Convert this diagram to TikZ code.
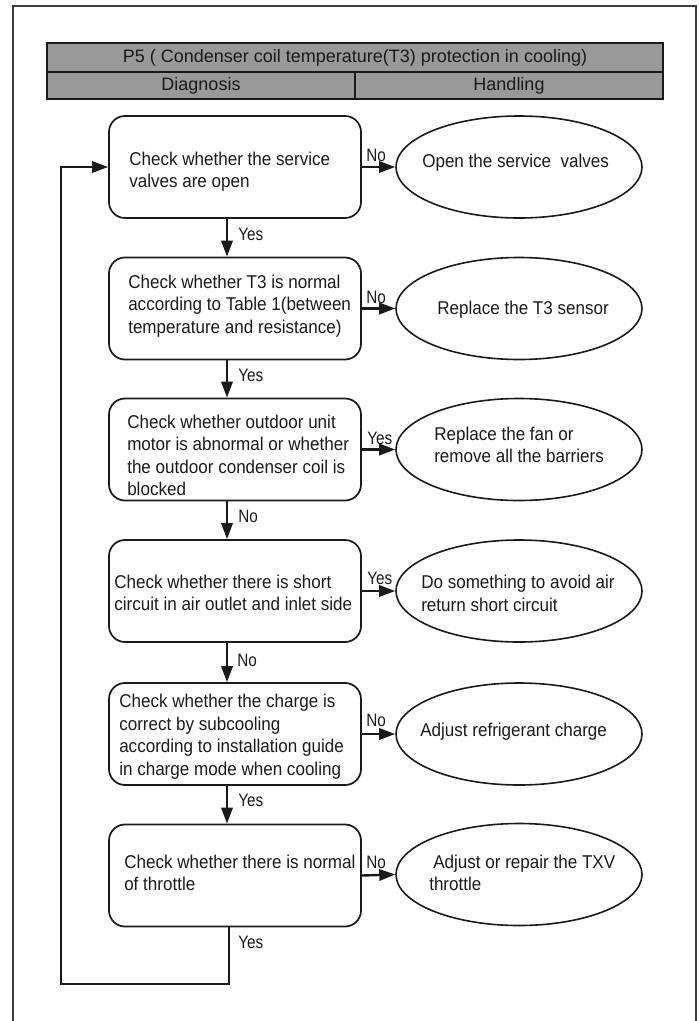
\documentclass[tikz,border=0pt]{standalone}
\usepackage{fontspec}
\setmainfont{Liberation Sans}
\newfontfamily\narrowsans[FakeStretch=0.92]{Liberation Sans}
\newfontfamily\lblsans[FakeStretch=0.85]{Liberation Sans}
\usetikzlibrary{shapes.geometric,arrows.meta,calc}
\definecolor{hdrgray}{HTML}{999999}
\definecolor{ink}{HTML}{1A1A1A}
\begin{document}
\begin{tikzpicture}[x=0.75pt,y=-0.75pt,
  box/.style={draw=ink, line width=1.3pt, rounded corners=12pt, minimum width=189pt, minimum height=76.5pt, inner sep=0pt},
  oval/.style={ellipse, draw=ink, line width=1.2pt, minimum width=184.5pt, minimum height=76.5pt, inner sep=0pt},
  txt/.style={anchor=west, inner sep=0pt, align=left, text=ink, font=\narrowsans\fontsize{13.9pt}{16.9pt}\selectfont},
  lbl/.style={anchor=west, inner sep=0pt, text=ink, font=\lblsans\fontsize{13.5pt}{15pt}\selectfont},
  conn/.style={draw=ink, line width=1.8pt, -{Triangle[length=12pt,width=8.5pt]}},
  hdr/.style={draw=ink, line width=1.4pt, fill=hdrgray, inner sep=0pt, text=ink, font=\fontsize{13.5pt}{16pt}\selectfont}
]
\useasboundingbox (0,0) rectangle (699,1021);
% outer frame
\draw[line width=0.8pt, draw=ink!85] (13,1021) -- (13,6) -- (696,6) -- (696,1021);
% header
\node[hdr, minimum width=462pt, minimum height=21.75pt] (title) at (355,57.5) {P5 ( Condenser coil temperature(T3) protection in cooling)};
\node[hdr, minimum width=231pt, minimum height=20.25pt] (diag) at (201,85.5) {Diagnosis};
\node[hdr, minimum width=231pt, minimum height=20.25pt] (hand) at (509,85.5) {Handling};
% diagnosis boxes
\node[box] (b1) at (235,167) {};
\node[box] (b2) at (235,308.5) {};
\node[box] (b3) at (235,449.5) {};
\node[box] (b4) at (235,591) {};
\node[box] (b5) at (235,734) {};
\node[box] (b6) at (235,875.5) {};
\node[txt] (t1) at (129,171.5) {Check whether the service\\valves are open};
\node[txt] (t2) at (128,306) {Check whether T3 is normal\\according to Table 1(between\\temperature and resistance)};
\node[txt] (t3) at (127,455.5) {Check whether outdoor unit\\motor is abnormal or whether\\the outdoor condenser coil is\\blocked};
\node[txt] (t4) at (114,593) {Check whether there is short\\circuit in air outlet and inlet side};
\node[txt] (t5) at (119,736.5) {Check whether the charge is\\correct by subcooling\\according to installation guide\\in charge mode when cooling};
\node[txt] (t6) at (124,873) {Check whether there is normal\\of throttle};
% handling ellipses
\node[oval] (e1) at (519,167) {};
\node[oval] (e2) at (519,308.5) {};
\node[oval] (e3) at (519,449.5) {};
\node[oval] (e4) at (519,591) {};
\node[oval] (e5) at (519,734) {};
\node[oval] (e6) at (519,874.5) {};
\node[txt] (u1) at (422,163) {Open the service\ \ valves};
\node[txt] (u2) at (437,310) {Replace the T3 sensor};
\node[txt] (u3) at (434,445) {Replace the fan or\\remove all the barriers};
\node[txt] (u4) at (421,593.5) {Do something to avoid air\\return short circuit};
\node[txt] (u5) at (420,732) {Adjust refrigerant charge};
\node[txt] (u6) at (429,873) {\hspace*{3pt}Adjust or repair the TXV\\throttle};
% vertical connectors
\coordinate (ax) at (227,0);
\draw[conn] (b1.south -| ax) -- (b2.north -| ax);
\draw[conn] (b2.south -| ax) -- (b3.north -| ax);
\draw[conn] (b3.south -| ax) -- (b4.north -| ax);
\draw[conn] (b4.south -| ax) -- (b5.north -| ax);
\draw[conn] (b5.south -| ax) -- (b6.north -| ax);
% horizontal connectors
\draw[conn] (b1.east) -- (e1.west);
\draw[conn] (b2.east) -- (e2.west);
\draw[conn] (b3.east) -- (e3.west);
\draw[conn] (b4.east) -- (e4.west);
\draw[conn] (b5.east) -- (e5.west);
\draw[conn] (b6.east) -- (e6.west);
% loop back
\coordinate (l1) at (229,984);
\coordinate (l2) at (61,984);
\draw[conn, line width=1.5pt] (b6.south -| l1) -- (l1) -- (l2) |- (b1.west);
% labels
\node[lbl] (n1) at (366,155) {No};
\node[lbl] (y1) at (238,234) {Yes};
\node[lbl] (n2) at (366,297) {No};
\node[lbl] (y2) at (238,375) {Yes};
\node[lbl] (y3) at (367,438) {Yes};
\node[lbl] (n3) at (238,516) {No};
\node[lbl] (y4) at (367,578) {Yes};
\node[lbl] (n4) at (237,660) {No};
\node[lbl] (n5) at (366,720) {No};
\node[lbl] (y5) at (238,800) {Yes};
\node[lbl] (n6) at (366,862) {No};
\node[lbl] (y6) at (238,942) {Yes};
\end{tikzpicture}
\end{document}
